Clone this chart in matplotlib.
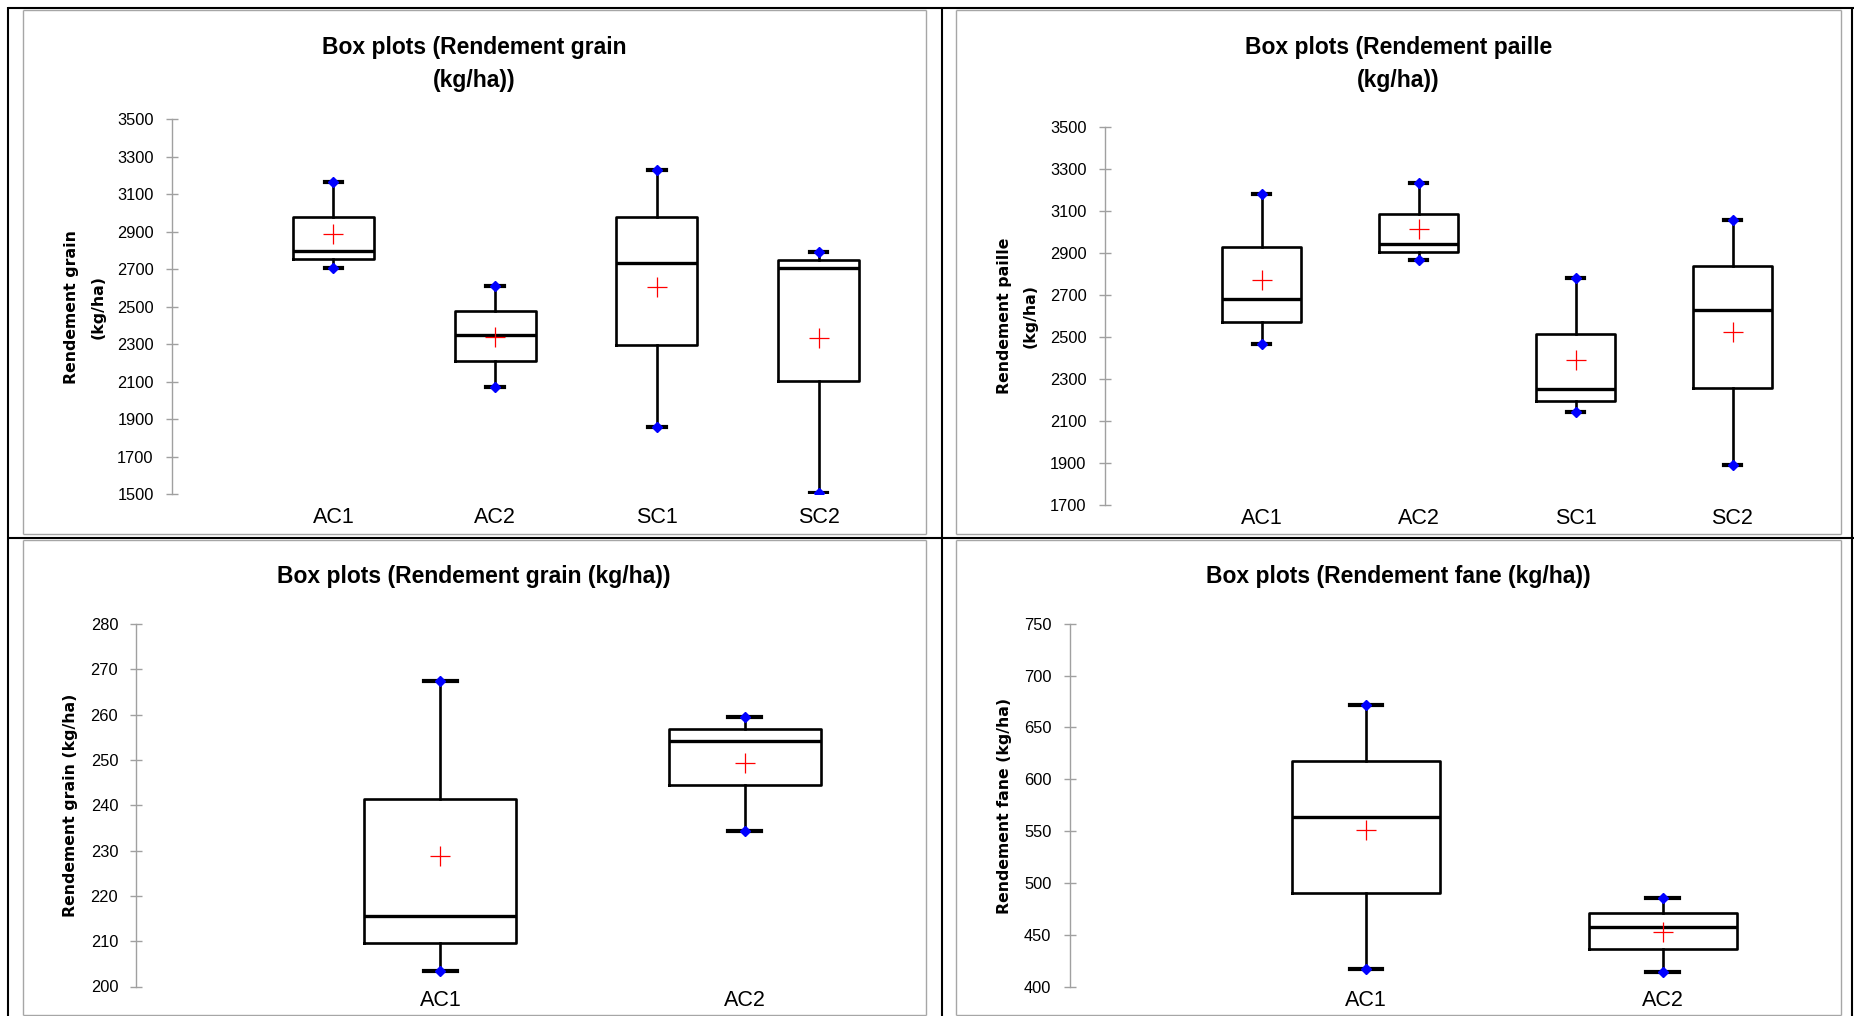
import numpy as np
import matplotlib
matplotlib.use("Agg")
import matplotlib.pyplot as plt
from matplotlib.lines import Line2D

W, H = 1854, 1016

# Rendement grain (4 traitements)
grain_cats = ["AC1", "AC2", "SC1", "SC2"]
grain_min = [2708, 2071, 1860, 1506]
grain_q1 = [2754, 2213, 2297, 2104]
grain_med = [2797, 2347, 2732, 2705]
grain_q3 = [2980, 2479, 2980, 2751]
grain_max = [3164, 2613, 3228, 2791]
grain_mean = [2888, 2337, 2607, 2334]

# Rendement paille (4 traitements)
paille_cats = ["AC1", "AC2", "SC1", "SC2"]
paille_min = [2466, 2869, 2144, 1889]
paille_q1 = [2572, 2905, 2198, 2257]
paille_med = [2680, 2943, 2251, 2628]
paille_q3 = [2931, 3087, 2516, 2841]
paille_max = [3182, 3234, 2784, 3056]
paille_mean = [2774, 3015, 2392, 2523]

# Rendement grain (2 traitements)
grain2_cats = ["AC1", "AC2"]
grain2_min = [203.5, 234.4]
grain2_q1 = [209.5, 244.4]
grain2_med = [215.6, 254.1]
grain2_q3 = [241.4, 256.9]
grain2_max = [267.4, 259.5]
grain2_mean = [228.7, 249.3]

# Rendement fane (2 traitements)
fane_cats = ["AC1", "AC2"]
fane_min = [417.3, 414.4]
fane_q1 = [490.3, 436.0]
fane_med = [563.9, 457.2]
fane_q3 = [617.6, 471.0]
fane_max = [671.2, 485.1]
fane_mean = [550.7, 452.4]

plt.rcParams["font.family"] = ["Liberation Sans", "DejaVu Sans"]

fig = plt.figure(figsize=(W / 100, H / 100), dpi=100)


def fx(x):
    return x / W


def fy(y):
    return 1 - y / H


def fig_line(x0, y0, x1, y1, color, lw):
    fig.add_artist(Line2D([fx(x0), fx(x1)], [fy(y0), fy(y1)], color=color, lw=lw,
                          transform=fig.transFigure, solid_capstyle="butt"))


def fig_rect(l, t, r, b, color, lw):
    fig_line(l, t, r, t, color, lw)
    fig_line(l, b, r, b, color, lw)
    fig_line(l, t, l, b, color, lw)
    fig_line(r, t, r, b, color, lw)


def panel(box, cats, mins, q1s, meds, q3s, maxs, means, ylim, step, xpad):
    l, t, r, b = box
    ax = fig.add_axes([fx(l), fy(b), (r - l) / W, (b - t) / H])
    pos = list(range(1, len(cats) + 1))
    stats = []
    for c, lo, a, m, z, hi, mu in zip(cats, mins, q1s, meds, q3s, maxs, means):
        stats.append(dict(label=c, whislo=lo, q1=a, med=m, q3=z, whishi=hi, mean=mu))
    ax.bxp(stats, positions=pos, widths=0.5, capwidths=0.11, showmeans=True, showfliers=False,
           boxprops=dict(color="black", lw=1.9),
           medianprops=dict(color="black", lw=2.4),
           whiskerprops=dict(color="black", lw=1.9),
           capprops=dict(color="black", lw=3),
           meanprops=dict(marker="+", markersize=14, markeredgecolor="#FF0000",
                          markeredgewidth=0.9))
    ax.plot(pos, mins, "D", color="#0000FF", ms=5.2, zorder=5)
    ax.plot(pos, maxs, "D", color="#0000FF", ms=5.2, zorder=5)
    ax.set_xlim(0, len(cats) + 0.5)
    ax.set_ylim(*ylim)
    ax.set_yticks(np.arange(ylim[0], ylim[1] + step / 2, step))
    ax.set_xticks(pos, cats)
    for s in ["top", "right", "bottom"]:
        ax.spines[s].set_visible(False)
    ax.spines["left"].set_color("#A0A0A0")
    ax.spines["left"].set_linewidth(1)
    ax.tick_params(axis="y", direction="inout", length=8, width=1, color="#A0A0A0",
                   labelsize=11.8, pad=9)
    ax.tick_params(axis="x", length=0, labelsize=15.5, pad=xpad)
    ax.patch.set_alpha(0)
    return ax


# tableau et cadres des graphiques
fig_rect(22.5, 9.5, 926, 534.3, "#A6A6A6", 1)
fig_rect(956, 9.5, 1841, 534.3, "#A6A6A6", 1)
fig_rect(22.5, 539.5, 926, 1014.5, "#A6A6A6", 1)
fig_rect(956, 539.5, 1841, 1014.5, "#A6A6A6", 1)
fig_line(8, 7.7, W, 7.7, "black", 1.5)
fig_line(8.3, 7, 8.3, H, "black", 1.5)
fig_line(941.7, 7, 941.7, H, "black", 1.5)
fig_line(8, 537.7, W, 537.7, "black", 1.5)
fig_line(1852, 7, 1852, H, "black", 1.5)

panel((171.7, 119.3, 899.4, 494.3), grain_cats, grain_min, grain_q1, grain_med, grain_q3,
      grain_max, grain_mean, (1500, 3500), 200, 9.5)
panel((1104.5, 127.3, 1811, 505), paille_cats, paille_min, paille_q1, paille_med, paille_q3,
      paille_max, paille_mean, (1700, 3500), 200, 2.2)
panel((136.3, 624, 896.6, 986.5), grain2_cats, grain2_min, grain2_q1, grain2_med, grain2_q3,
      grain2_max, grain2_mean, (200, 280), 10, 2.2)
panel((1069.5, 623.7, 1811, 986.7), fane_cats, fane_min, fane_q1, fane_med, fane_q3,
      fane_max, fane_mean, (400, 750), 50, 2.2)

# titres
tkw = dict(fontsize=16.5, fontweight="bold", ha="center", va="baseline")
fig.text(fx(474), fy(54), "Box plots (Rendement grain", **tkw)
fig.text(fx(474), fy(86.6), "(kg/ha))", **tkw)
fig.text(fx(1398.5), fy(54), "Box plots (Rendement paille", **tkw)
fig.text(fx(1398.5), fy(86.6), "(kg/ha))", **tkw)
fig.text(fx(474), fy(583), "Box plots (Rendement grain (kg/ha))", **tkw)
fig.text(fx(1398.5), fy(583), "Box plots (Rendement fane (kg/ha))", **tkw)

# titres des axes
ykw = dict(fontsize=11.3, fontweight="bold", ha="center", va="center", rotation=90,
           family="DejaVu Sans")
fig.text(fx(71.5), fy(306.8), "Rendement grain", **ykw)
fig.text(fx(97.7), fy(306.8), "(kg/ha)", **ykw)
fig.text(fx(1004.7), fy(316.2), "Rendement paille", **ykw)
fig.text(fx(1030), fy(316.2), "(kg/ha)", **ykw)
fig.text(fx(70.8), fy(805), "Rendement grain (kg/ha)", **ykw)
fig.text(fx(1004.7), fy(806), "Rendement fane (kg/ha)", **ykw)

fig.savefig("out.png", dpi=100)
